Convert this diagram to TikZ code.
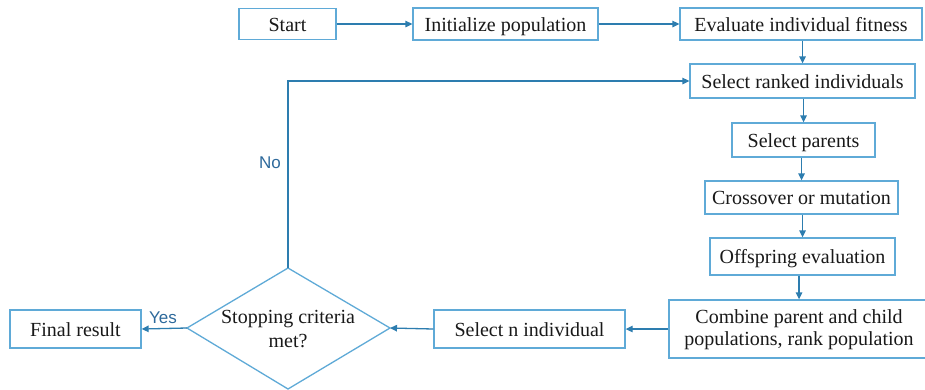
\documentclass[tikz,border=0pt]{standalone}
\usepackage{fontspec}
\setmainfont{Liberation Serif}
\newfontfamily\lblfont{Liberation Sans}
\usetikzlibrary{arrows.meta}
\definecolor{boxblue}{RGB}{95,170,215}
\definecolor{arrblue}{RGB}{45,125,175}
\definecolor{lblblue}{RGB}{45,105,155}
\definecolor{txt}{RGB}{25,25,25}
\begin{document}
\begin{tikzpicture}[x=1pt,y=-1pt,
  stepbox/.style={draw=boxblue, line width=1.3pt, fill=white, inner sep=0pt,
    text=txt, font=\fontsize{20}{22}\selectfont, align=center},
  oneline/.style={stepbox, text height=15pt, text depth=1pt},
  conn/.style={draw=arrblue, line width=1.3pt, -{Triangle[length=7pt,width=6.5pt]}},
  lbl/.style={text=lblblue, font=\lblfont\fontsize{17}{19}\selectfont, inner sep=0pt}]
\useasboundingbox (0,0) rectangle (925,389);
\node[oneline, minimum width=97pt, minimum height=31pt] (start) at (287.5,24) {Start};
\node[oneline, minimum width=185pt, minimum height=32pt] (init) at (505.5,24) {Initialize population};
\node[oneline, minimum width=242pt, minimum height=32pt] (eval) at (801,24) {Evaluate individual fitness};
\node[oneline, minimum width=225pt, minimum height=34pt] (rank) at (802.5,81) {Select ranked individuals};
\node[oneline, minimum width=143pt, minimum height=34pt] (par) at (803.5,140) {Select parents};
\node[oneline, minimum width=193pt, minimum height=33pt] (cross) at (801.5,197.5) {Crossover or mutation};
\node[oneline, minimum width=185pt, minimum height=37pt] (off) at (802.5,256.5) {Offspring evaluation};
\node[stepbox, minimum width=260pt, minimum height=58pt, text depth=3.7pt] (comb) at (799,329) {Combine parent and child\\populations, rank population};
\node[oneline, minimum width=191pt, minimum height=38pt] (seln) at (529.5,329) {Select n individual};
\node[oneline, minimum width=131pt, minimum height=38pt] (fin) at (75.5,329) {Final result};
% decision diamond
\coordinate (dtop) at (288,268);
\coordinate (dbot) at (288,389);
\coordinate (dleft) at (187,328);
\coordinate (dright) at (390,328);
\draw[draw=boxblue, line width=1.3pt, fill=white] (dtop) -- (dright) -- (dbot) -- (dleft) -- cycle;
\node[text=txt, font=\fontsize{20}{24}\selectfont, align=center, inner sep=0pt,
  text depth=0pt] (dec) at (288,328.5) {Stopping criteria\\met?};
% connectors
\draw[conn] (start) -- (init);
\draw[conn] (init) -- (eval);
\draw[conn] (eval.south -| rank.north) -- (rank.north);
\draw[conn] (rank.south -| par.north) -- (par.north);
\draw[conn] (par.south -| cross.north) -- (cross.north);
\draw[conn] (cross.south -| off.north) -- (off.north);
\draw[conn] (off.south -| comb.north) -- (comb.north);
\draw[conn] (comb.west) -- (seln.east);
\draw[conn] (seln.west) -- (dright);
\draw[conn] (dleft) -- (fin.east);
\draw[conn] (dtop) -- (dtop |- rank.west) -- (rank.west);
\node[lbl] (no) at (270,163) {No};
\node[lbl] (yes) at (163,318) {Yes};
\end{tikzpicture}
\end{document}
